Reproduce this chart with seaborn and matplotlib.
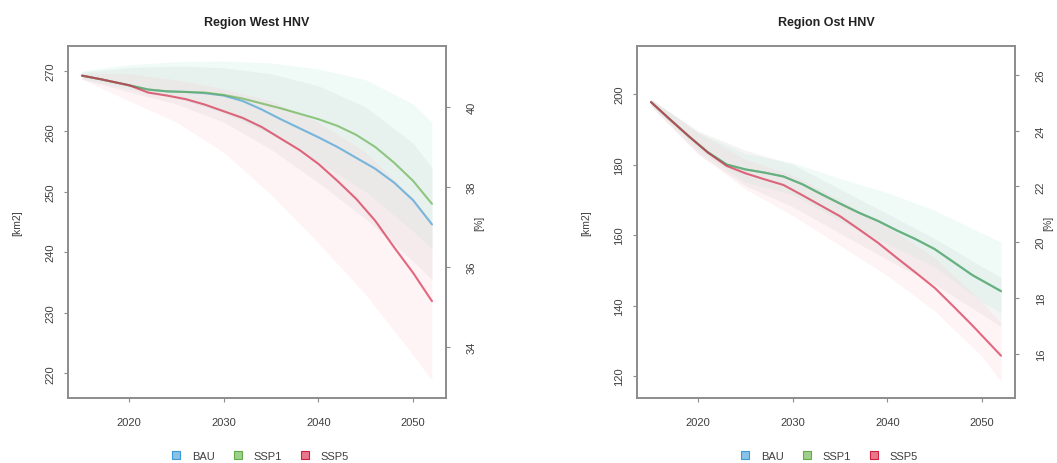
import numpy as np
import pandas as pd
import matplotlib
matplotlib.use("Agg")
import matplotlib.pyplot as plt
from matplotlib.lines import Line2D
import seaborn as sns

# ── Data ────────────────────────────────────────────────────────────────────
scenarios = ["BAU", "SSP1", "SSP5"]
line_colors = {"BAU": "#3a9ad6", "SSP1": "#5fae45", "SSP5": "#d41e40"}
band_colors = {"BAU": "#c8c8c8", "SSP1": "#b4ecd8", "SSP5": "#fbc6cf"}

# Region West
west_years = [2015, 2017, 2020, 2022, 2024, 2026, 2028, 2030, 2032, 2034, 2036, 2038, 2040, 2042, 2044, 2046, 2048, 2050, 2052]
west_bau = [269.2, 268.6, 267.6, 266.9, 266.6, 266.5, 266.3, 265.9, 265.0, 263.6, 262.0, 260.5, 259.0, 257.4, 255.6, 253.8, 251.5, 248.6, 244.6]
west_ssp1 = [269.2, 268.6, 267.6, 266.9, 266.6, 266.5, 266.4, 266.0, 265.4, 264.6, 263.8, 262.9, 262.0, 260.9, 259.4, 257.4, 254.8, 251.8, 248.0]
west_ssp5 = [269.2, 268.6, 267.6, 266.4, 265.9, 265.3, 264.4, 263.3, 262.2, 260.7, 258.8, 256.9, 254.6, 251.8, 248.8, 245.2, 240.8, 236.6, 231.9]

west_band_years = [2015, 2020, 2025, 2030, 2035, 2040, 2045, 2050, 2052]
west_bau_lo = [268.6, 266.5, 264.5, 261.5, 257.0, 251.5, 245.5, 238.5, 235.5]
west_bau_hi = [269.8, 270.5, 270.8, 270.5, 269.5, 267.5, 264.0, 258.0, 254.0]
west_ssp1_lo = [268.7, 267.0, 265.5, 263.0, 259.5, 255.0, 250.0, 243.5, 240.5]
west_ssp1_hi = [270.0, 271.0, 271.5, 271.6, 271.3, 270.3, 268.5, 264.5, 261.5]
west_ssp5_lo = [268.6, 265.0, 261.5, 256.5, 249.5, 241.5, 233.0, 223.0, 218.8]
west_ssp5_hi = [269.5, 269.5, 268.5, 267.0, 265.0, 261.5, 256.5, 249.0, 245.0]

# Region Ost
ost_years = [2015, 2017, 2019, 2021, 2023, 2025, 2027, 2029, 2031, 2033, 2035, 2037, 2039, 2041, 2043, 2045, 2047, 2049, 2052]
ost_bau = [197.7, 192.8, 188.0, 183.5, 180.0, 178.6, 177.7, 176.6, 174.4, 171.6, 168.9, 166.3, 164.0, 161.3, 158.8, 156.0, 152.3, 148.6, 144.1]
ost_ssp1 = [197.7, 192.8, 188.0, 183.5, 180.0, 178.6, 177.7, 176.6, 174.4, 171.6, 168.9, 166.3, 164.0, 161.3, 158.8, 156.0, 152.3, 148.6, 144.1]
ost_ssp5 = [197.7, 192.8, 188.0, 183.4, 179.6, 177.5, 175.8, 174.2, 171.3, 168.3, 165.3, 161.6, 157.8, 153.5, 149.3, 145.0, 139.7, 134.3, 125.8]

ost_band_years = [2015, 2020, 2025, 2030, 2035, 2040, 2045, 2050, 2052]
ost_bau_lo = [196.5, 183.0, 174.0, 168.0, 160.5, 153.0, 146.0, 137.5, 134.0]
ost_bau_hi = [198.5, 189.5, 184.0, 180.0, 173.0, 166.0, 159.0, 151.0, 148.0]
ost_ssp1_lo = [197.0, 184.0, 175.0, 171.5, 164.0, 157.5, 151.0, 141.0, 138.0]
ost_ssp1_hi = [198.5, 189.0, 183.0, 180.5, 176.0, 172.0, 167.0, 160.5, 158.0]
ost_ssp5_lo = [196.5, 183.0, 173.0, 165.5, 157.0, 148.5, 138.5, 125.5, 118.5]
ost_ssp5_hi = [198.5, 189.0, 181.5, 177.0, 170.0, 162.5, 153.5, 141.0, 135.0]

# km2 per percent of the region (secondary [%] axis)
west_km2_per_pct = 6.6
ost_km2_per_pct = 7.9
west_pct_ticks = [34, 36, 38, 40]
ost_pct_ticks = [16, 18, 20, 22, 24, 26]

panels = [
    dict(title="Region West HNV", years=west_years,
         lines={"BAU": west_bau, "SSP1": west_ssp1, "SSP5": west_ssp5},
         band_years=west_band_years,
         bands={"BAU": (west_bau_lo, west_bau_hi), "SSP1": (west_ssp1_lo, west_ssp1_hi),
                "SSP5": (west_ssp5_lo, west_ssp5_hi)},
         ylim=(215.9, 274.1), yticks=[220, 230, 240, 250, 260, 270],
         k=west_km2_per_pct, pct_ticks=west_pct_ticks, left=68),
    dict(title="Region Ost HNV", years=ost_years,
         lines={"BAU": ost_bau, "SSP1": ost_ssp1, "SSP5": ost_ssp5},
         band_years=ost_band_years,
         bands={"BAU": (ost_bau_lo, ost_bau_hi), "SSP1": (ost_ssp1_lo, ost_ssp1_hi),
                "SSP5": (ost_ssp5_lo, ost_ssp5_hi)},
         ylim=(113.8, 213.6), yticks=[120, 140, 160, 180, 200],
         k=ost_km2_per_pct, pct_ticks=ost_pct_ticks, left=637),
]

# ── Figure ──────────────────────────────────────────────────────────────────
sns.set_theme(style="white")
plt.rcParams["font.family"] = ["Liberation Sans", "DejaVu Sans"]
W, H = 1057, 464
fig = plt.figure(figsize=(W / 100, H / 100), dpi=100)

spine_col = "#8c8c8c"
text_col = "#404040"

for p in panels:
    ax = fig.add_axes([p["left"] / W, (H - 399) / H, 378 / W, 352 / H])

    for s in scenarios:
        lo, hi = p["bands"][s]
        ax.fill_between(p["band_years"], lo, hi, color=band_colors[s], alpha=0.2, lw=0)

    df = pd.concat([
        pd.DataFrame({"year": p["years"], "area": p["lines"][s], "scenario": s})
        for s in scenarios
    ])
    sns.lineplot(data=df, x="year", y="area", hue="scenario", hue_order=scenarios,
                 palette=line_colors, lw=1.5, alpha=0.65, ax=ax, legend=False)

    ax.set_xlim(2013.52, 2053.48)
    ax.set_ylim(*p["ylim"])
    ax.set_xticks([2020, 2030, 2040, 2050])
    ax.set_yticks(p["yticks"])
    ax.tick_params(axis="both", which="both", direction="out", length=3, width=0.8,
                   color=spine_col, labelsize=8, labelcolor=text_col, left=True, bottom=True)
    ax.tick_params(axis="x", pad=11)
    ax.tick_params(axis="y", pad=6)
    for lab in ax.get_yticklabels():
        lab.set_rotation(90)
        lab.set_va("center")
    for sp in ax.spines.values():
        sp.set_color(spine_col)
        sp.set_linewidth(1.4)

    ax.set_xlabel("")
    ax.set_ylabel("[km2]", fontsize=7.5, color=text_col)
    ax.yaxis.set_label_coords(-46 / 378, 0.5)
    ax.set_title(p["title"], fontsize=9, fontweight="bold", color="#222222", pad=15)

    k = p["k"]
    sec = ax.secondary_yaxis("right", functions=(lambda v, k=k: v / k, lambda q, k=k: q * k))
    sec.set_yticks(p["pct_ticks"])
    sec.tick_params(direction="out", length=3, width=0.8, color=spine_col,
                    labelsize=8, labelcolor=text_col, pad=12)
    for lab in sec.get_yticklabels():
        lab.set_rotation(90)
        lab.set_va("center")
    sec.spines["right"].set_visible(False)
    ax.text(1 + 33 / 378, 0.5, "[%]", transform=ax.transAxes, rotation=90,
            ha="center", va="center", fontsize=7.5, color=text_col)

    handles = [Line2D([], [], ls="", marker="s", markersize=6,
                      markerfacecolor=matplotlib.colors.to_rgba(line_colors[s], 0.6),
                      markeredgecolor=line_colors[s], markeredgewidth=0.8)
               for s in scenarios]
    ax.legend(handles, scenarios, loc="center", bbox_to_anchor=(0.5, -58 / 352),
              ncol=3, frameon=False, fontsize=8, handletextpad=0.4, columnspacing=1.1,
              labelcolor=text_col)

fig.savefig("out.png", dpi=100)
